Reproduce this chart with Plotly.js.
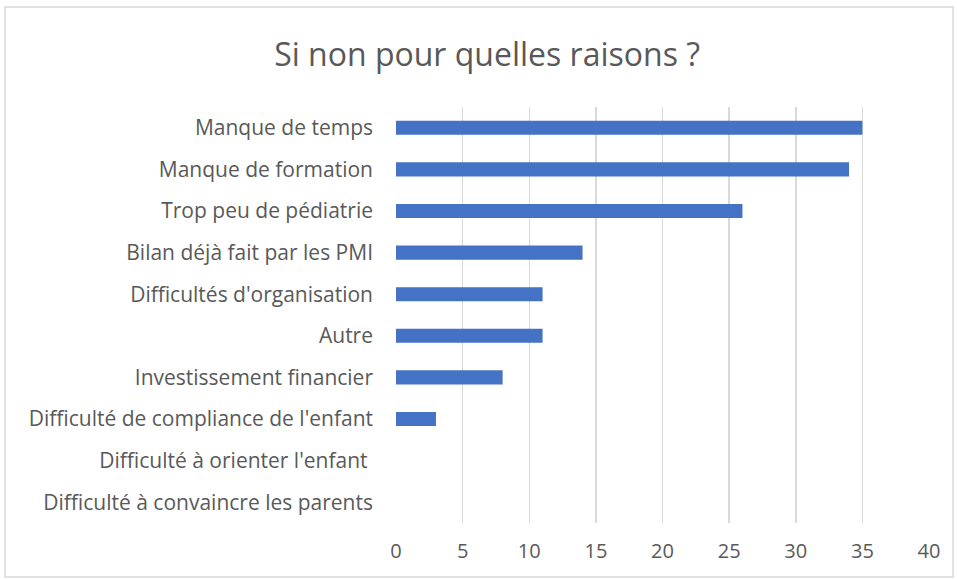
<!DOCTYPE html>
<html>
<head>
<meta charset="utf-8">
<script src="https://cdn.plot.ly/plotly-3.0.1.min.js"></script>
<style>html,body{margin:0;padding:0;background:#fff;}#chart{width:957px;height:579px;}</style>
</head>
<body>
<div id="chart"></div>
<script>
const categories = [
  "Manque de temps",
  "Manque de formation",
  "Trop peu de pédiatrie",
  "Bilan déjà fait par les PMI",
  "Difficultés d'organisation",
  "Autre",
  "Investissement financier",
  "Difficulté de compliance de l'enfant",
  "Difficulté à orienter l'enfant ",
  "Difficulté à convaincre les parents"
];
const values = [35, 34, 26, 14, 11, 11, 8, 3, 0, 0];
const xTicks = [0, 5, 10, 15, 20, 25, 30, 35, 40];

const L = 396, R = 28, T = 107, B = 56, W = 957, H = 579;
const pw = W - L - R, ph = H - T - B;
const px = v => (v - L) / pw;
const py = v => (H - B - v) / ph;

const trace = {
  type: 'bar',
  orientation: 'h',
  y: categories,
  x: values,
  marker: {color: '#4472C4'},
  hoverinfo: 'x+y'
};

const layout = {
  width: W, height: H,
  margin: {l: L, r: R, t: T, b: B},
  paper_bgcolor: '#fff',
  plot_bgcolor: '#fff',
  font: {family: '"Open Sans", "Noto Sans", sans-serif', color: '#595959', size: 21},
  title: {
    text: 'Si non pour quelles raisons ?',
    font: {size: 32, color: '#595959', family: '"Open Sans", "Noto Sans", sans-serif'},
    x: 0.509, xref: 'container', xanchor: 'center',
    y: 1 - 55 / H, yref: 'container', yanchor: 'middle'
  },
  bargap: 0.66,
  showlegend: false,
  xaxis: {
    range: [0, 40],
    tickvals: xTicks,
    ticktext: xTicks.map(String),
    showgrid: true,
    gridcolor: '#d9d9d9',
    gridwidth: 1.5,
    zeroline: false,
    showline: false,
    ticks: '',
    ticklabelstandoff: 14,
    tickfont: {size: 20, color: '#595959'},
    fixedrange: true
  },
  yaxis: {
    type: 'category',
    autorange: 'reversed',
    showgrid: false,
    zeroline: false,
    showline: false,
    ticks: '',
    ticklabelstandoff: 22,
    tickfont: {size: 21, color: '#595959'},
    fixedrange: true
  },
  shapes: [{
    type: 'rect', xref: 'paper', yref: 'paper',
    x0: px(5), x1: px(953), y0: py(577), y1: py(7),
    line: {color: '#d9d9d9', width: 1.5},
    fillcolor: 'rgba(0,0,0,0)', layer: 'below'
  }]
};

Plotly.newPlot('chart', [trace], layout, {displayModeBar: false, staticPlot: true});
</script>
</body>
</html>
